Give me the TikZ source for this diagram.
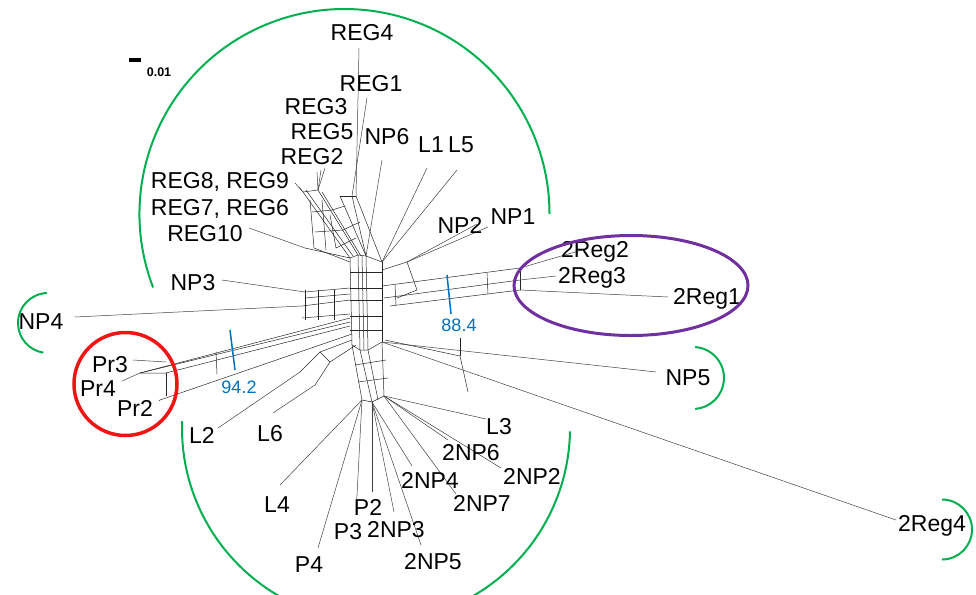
\documentclass[tikz,border=0pt]{standalone}
\usepackage{fontspec}
\setmainfont{Liberation Sans}
\usetikzlibrary{shapes.geometric}
\definecolor{ringgreen}{RGB}{0,176,80}
\definecolor{ringred}{RGB}{240,20,20}
\definecolor{ringpurple}{RGB}{112,48,160}
\definecolor{bootblue}{RGB}{0,112,192}
\begin{document}
\begin{tikzpicture}[x=1pt, y=-1pt,
  taxon/.style = {font=\fontsize{23}{26}\selectfont, inner sep=0pt},
  boot/.style = {font=\fontsize{18}{20}\selectfont, text=bootblue, inner sep=0pt},
  web/.style = {draw=black!85, line width=0.5pt},
  leaf/.style = {draw=black!75, line width=0.5pt},
  ring/.style = {line width=2pt}]
\useasboundingbox (0,0) rectangle (976,594);
\clip (0,0) rectangle (976,594);

% scale bar
\coordinate (sb1) at (129,60);
\coordinate (sb2) at (141,60);
\draw[line width=3pt] (sb1) -- (sb2);
\node[font=\bfseries\fontsize{12.5}{14}\selectfont, inner sep=0pt] (sbl) at (159,72) {0.01};

% core of the network
\coordinate (c1) at (350,258);
\coordinate (c2) at (358,255);
\coordinate (c3) at (366,256);
\coordinate (c4) at (382,262);
\coordinate (c5) at (352,345);
\coordinate (c6) at (360,350);
\coordinate (c7) at (368,350);
\coordinate (c8) at (382,342);
\draw[web] (c1) -- (c2) -- (c3) -- (c4);
\draw[web] (c5) -- (c6) -- (c7) -- (c8);
\draw[web] (c1) -- (c5);
\draw[web] (c2) -- (c6);
\draw[web] (c3) -- (c7);
\draw[web] (c4) -- (c8);
\draw[web] (362,256) -- (364,350);
\foreach \y in {272,288,300,316,330}
  \draw[web] (350,\y) -- (382,\y);

% upper band (REG)
\coordinate (u1) at (303,192);
\coordinate (u2) at (318,190);
\coordinate (u3) at (340,196);
\coordinate (u4) at (352,196);
\coordinate (u5) at (356,196);
\draw[web] (u1) -- (c1);
\draw[web] (u2) -- (c2);
\draw[web] (u3) -- (c3);
\draw[web] (u4) -- (c3);
\draw[web] (u5) -- (c4);
\draw[web] (306,190) -- (353,256);
\draw[web] (322,192) -- (361,256);
\draw[web] (u1) -- (u2);
\draw[web] (u3) -- (u5);
\draw[web] (310,200) -- (314,248) -- (350,262);
\draw[web] (322,200) -- (326,250);
\draw[web] (312,212) -- (332,210) -- (345,206);
\draw[web] (315,232) -- (343,230) -- (360,222);
\draw[web] (330,215) -- (336,248) -- (356,238);

% left ladder (REG10, NP3, NP4)
\coordinate (m1) at (305,248);
\coordinate (m2) at (305,292);
\coordinate (m3) at (302,306);
\coordinate (m4) at (302,318);
\draw[web] (m1) -- (c1);
\draw[web] (m2) -- (350,288);
\draw[web] (m3) -- (350,300);
\draw[web] (m4) -- (350,314);
\draw[web] (305,298) -- (350,294);
\foreach \x in {305,318,334}
  \draw[web] (\x,290) -- (\x,320);

% right band (2Reg)
\coordinate (r1) at (382,286);
\coordinate (r2) at (384,298);
\coordinate (r3) at (390,306);
\coordinate (r4) at (520,268);
\coordinate (r5) at (520,280);
\coordinate (r6) at (520,290);
\draw[web] (r1) -- (r4);
\draw[web] (r2) -- (r5);
\draw[web] (r3) -- (r6);
\draw[web] (395,285) -- (396,305);
\draw[web] (487,273) -- (488,294);
\draw[web] (r4) -- (r6);
\draw[web] (382,270) -- (407,262) -- (417,290) -- (397,298);

% left band (Pr)
\coordinate (p1) at (140,373);
\coordinate (p2) at (160,400);
\coordinate (p3) at (350,318);
\coordinate (p4) at (352,334);
\draw[web] (p1) -- (p3);
\draw[web] (p1) -- (350,322);
\draw[web] (p1) -- (166,373) -- (350,326);
\draw[web] (p2) -- (p4);
\draw[web] (166,373) -- (166,396);
\draw[web] (216,352) -- (217,374);

% lower band
\coordinate (d1) at (362,400);
\coordinate (d2) at (372,402);
\coordinate (d3) at (384,396);
\draw[web] (c5) -- (d1);
\draw[web] (c6) -- (d2);
\draw[web] (c7) -- (378,400);
\draw[web] (c8) -- (d3);
\draw[web] (d1) -- (d2) -- (d3);
\draw[web] (355,365) -- (386,360);
\draw[web] (358,382) -- (388,378);
\draw[web] (352,340) -- (320,352) -- (300,372);
\draw[web] (356,345) -- (330,362) -- (315,385);
\draw[web] (320,352) -- (330,362);
\draw[web] (385,340) -- (460,356) -- (468,392);
\draw[web] (460,338) -- (460,356);

% leaves
\coordinate (treg4) at (359,48);
\coordinate (treg1) at (367,98);
\coordinate (treg3) at (325,168);
\coordinate (treg5) at (321,170);
\coordinate (treg2) at (317,172);
\coordinate (treg89) at (295,183);
\coordinate (treg76) at (299,187);
\coordinate (tnp6) at (382,160);
\coordinate (tl1) at (427,168);
\coordinate (tl5) at (457,170);
\coordinate (tnp2) at (477,224);
\coordinate (tnp1) at (488,227);
\coordinate (treg10) at (249,228);
\coordinate (tnp3) at (222,280);
\coordinate (tnp4) at (75,317);
\coordinate (tpr3) at (133,360);
\coordinate (tpr4) at (122,381);
\coordinate (tpr2) at (159,401);
\coordinate (t2reg2) at (582,250);
\coordinate (t2reg3) at (556,276);
\coordinate (t2reg1) at (668,297);
\coordinate (tnp5) at (656,372);
\coordinate (t2reg4) at (896,520);
\coordinate (tl3) at (486,419);
\coordinate (t2np6) at (448,440);
\coordinate (t2np2) at (501,468);
\coordinate (t2np4) at (412,466);
\coordinate (t2np7) at (456,494);
\coordinate (tl2) at (218,428);
\coordinate (tl6) at (273,413);
\coordinate (tl4) at (280,485);
\coordinate (tp2) at (372,492);
\coordinate (tp3) at (356,514);
\coordinate (t2np3) at (394,512);
\coordinate (t2np5) at (421,545);
\coordinate (tp4) at (318,548);

\draw[leaf] (treg4) -- (u5);
\draw[leaf] (treg1) -- (u4);
\draw[leaf] (treg3) -- (u2);
\draw[leaf] (treg5) -- (u2);
\draw[leaf] (treg2) -- (u2);
\draw[leaf] (treg89) -- (u1);
\draw[leaf] (treg76) -- (u1);
\draw[leaf] (tnp6) -- (c3);
\draw[leaf] (tl1) -- (c4);
\draw[leaf] (tl5) -- (c4);
\draw[leaf] (tnp2) -- (407,262);
\draw[leaf] (tnp1) -- (407,262);
\draw[leaf] (treg10) -- (m1);
\draw[leaf] (tnp3) -- (m2);
\draw[leaf] (tnp4) -- (m3);
\draw[leaf] (tpr3) -- (166,362);
\draw[leaf] (tpr4) -- (p1);
\draw[leaf] (tpr2) -- (p2);
\draw[leaf] (t2reg2) -- (r4);
\draw[leaf] (t2reg3) -- (r5);
\draw[leaf] (t2reg1) -- (r6);
\draw[leaf] (tnp5) -- (c8);
\draw[leaf] (t2reg4) -- (c8);
\draw[leaf] (tl3) -- (d3);
\draw[leaf] (t2np6) -- (d3);
\draw[leaf] (t2np2) -- (d3);
\draw[leaf] (t2np4) -- (d2);
\draw[leaf] (t2np7) -- (d3);
\draw[leaf] (tl2) -- (300,372);
\draw[leaf] (tl6) -- (315,385);
\draw[leaf] (tl4) -- (d1);
\draw[leaf] (tp2) -- (d2);
\draw[leaf] (tp3) -- (d1);
\draw[leaf] (t2np3) -- (d2);
\draw[leaf] (t2np5) -- (d2);
\draw[leaf] (tp4) -- (d1);

% labels
\node[taxon] (reg4) at (362,33) {REG4};
\node[taxon] (reg1) at (371,84) {REG1};
\node[taxon] (reg3) at (316,107) {REG3};
\node[taxon] (reg5) at (322,132) {REG5};
\node[taxon] (reg2) at (312,157) {REG2};
\node[taxon] (np6) at (387,137) {NP6};
\node[taxon] (l1) at (431,145) {L1};
\node[taxon] (l5) at (461,145) {L5};
\node[taxon] (reg89) at (220,182) {REG8, REG9};
\node[taxon] (reg76) at (220,209) {REG7, REG6};
\node[taxon] (reg10) at (205,234) {REG10};
\node[taxon] (np2) at (460,225) {NP2};
\node[taxon] (np1) at (513,217) {NP1};
\node[taxon] (np3) at (193,283) {NP3};
\node[taxon] (2reg2) at (595,252) {2Reg2};
\node[taxon] (2reg3) at (592,278) {2Reg3};
\node[taxon] (2reg1) at (707,299) {2Reg1};
\node[taxon] (np4) at (41,322) {NP4};
\node[taxon] (pr3) at (110,365) {Pr3};
\node[taxon] (pr4) at (98,389) {Pr4};
\node[taxon] (pr2) at (135,408) {Pr2};
\node[taxon] (np5) at (688,378) {NP5};
\node[taxon] (l3) at (499,427) {L3};
\node[taxon] (2np6) at (471,453) {2NP6};
\node[taxon] (2np2) at (532,476) {2NP2};
\node[taxon] (2np4) at (430,480) {2NP4};
\node[taxon] (2np7) at (482,503) {2NP7};
\node[taxon] (l2) at (202,435) {L2};
\node[taxon] (l6) at (270,434) {L6};
\node[taxon] (l4) at (277,505) {L4};
\node[taxon] (p2) at (368,507) {P2};
\node[taxon] (p3) at (348,532) {P3};
\node[taxon] (2np3) at (396,530) {2NP3};
\node[taxon] (2np5) at (433,562) {2NP5};
\node[taxon] (p4) at (309,565) {P4};
\node[taxon] (2reg4) at (932,526) {2Reg4};

% bootstrap marks
\coordinate (b1a) at (447,275);
\coordinate (b1b) at (451,314);
\draw[bootblue, line width=1.5pt] (b1a) -- (b1b);
\node[boot] (b1) at (459,325) {88.4};
\coordinate (b2a) at (230,330);
\coordinate (b2b) at (235,370);
\draw[bootblue, line width=1.5pt] (b2a) -- (b2b);
\node[boot] (b2) at (239,387) {94.2};

% groups
\coordinate (g1) at (344.5,214);
\draw[ring, ringgreen] (g1) ++(159:205) arc[start angle=159, end angle=360, radius=205];
\coordinate (g2) at (376,428);
\draw[ring, ringgreen] (g2) ++(182:194) arc[start angle=182, end angle=1, radius=194];
\coordinate (g3) at (48,323);
\draw[ring, ringgreen] (g3) ++(268:30) arc[start angle=268, end angle=99, radius=30];
\coordinate (g4) at (693,378);
\draw[ring, ringgreen] (g4) ++(-86:31) arc[start angle=-86, end angle=86, radius=31];
\coordinate (g5) at (942,529.5);
\draw[ring, ringgreen] (g5) ++(-90:30) arc[start angle=-90, end angle=90, radius=30];
\node[draw=ringred, line width=3.5pt, circle, minimum size=103pt] (prgroup) at (125.5,384) {};
\node[draw=ringpurple, line width=3pt, ellipse, minimum width=234pt, minimum height=100pt] (reggroup) at (631,285.5) {};
\end{tikzpicture}
\end{document}
